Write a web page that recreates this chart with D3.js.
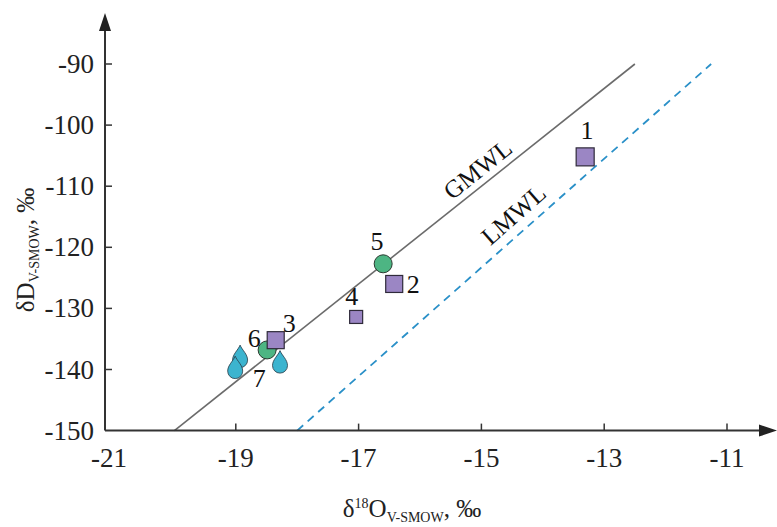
<!DOCTYPE html>
<html>
<head>
<meta charset="utf-8">
<script src="https://cdn.jsdelivr.net/npm/d3@7"></script>
<style>
  body { margin: 0; background: #fff; }
  svg { display: block; font-family: "Liberation Serif", "Times New Roman", serif; }
</style>
</head>
<body>
<svg></svg>
<script>
    /* data */
    let xTicks = [-21, -19, -17, -15, -13, -11];
    let yTicks = [-90, -100, -110, -120, -130, -140, -150];
    // samples: id, d18O, dD
    let squares = [
        {id: "1", x: -13.31, y: -105.2, size: 18},
        {id: "2", x: -16.42, y: -126.0, size: 17},
        {id: "3", x: -18.35, y: -135.2, size: 17},
        {id: "4", x: -17.04, y: -131.4, size: 13}
    ];
    let circles = [
        {id: "5", x: -16.60, y: -122.7},
        {id: "6", x: -18.49, y: -136.8}
    ];
    let drops = [
        {x: -18.93, y: -138.3},
        {x: -19.01, y: -140.1},
        {x: -18.28, y: -139.2}
    ];
    let labels = [
        {id: "1", x: -13.28, y: -100.8},
        {id: "2", x: -16.11, y: -126.0},
        {id: "3", x: -18.13, y: -132.4},
        {id: "4", x: -17.11, y: -128.0},
        {id: "5", x: -16.70, y: -119.0},
        {id: "6", x: -18.70, y: -134.8},
        {id: "7", x: -18.62, y: -141.4}
    ];
    // meteoric water lines  dD = a * d18O + b
    let gmwl = {a: 8, b: 10, from: -150, to: -90};
    let lmwl = {a: 8.9, b: 10.2, from: -150, to: -90};

    let width = 777;
    let height = 527;

    const svg = d3.select("svg").attr("width", width).attr("height", height);

    let xScale = d3.scaleLinear().domain([-21, -11]).range([113, 727]);
    let yScale = d3.scaleLinear().domain([-150, -90]).range([430.6, 64]);
    let axisX = 105;
    let axisY = yScale(-150);
    let fs = 27;

    // mw lines
    const lineEnds = (l) => [l.from, l.to].map(v => [(v - l.b) / l.a, v]);
    const lineGen = d3.line().x(d => xScale(d[0])).y(d => yScale(d[1]));

    svg.append("path").attr("d", lineGen(lineEnds(gmwl)))
        .attr("stroke", "#6b6b6b").attr("stroke-width", 1.6).attr("fill", "none");
    svg.append("path").attr("d", lineGen(lineEnds(lmwl)))
        .attr("stroke", "#2a90c8").attr("stroke-width", 1.8).attr("fill", "none")
        .attr("stroke-dasharray", "8,6");

    // line names, along the lines
    const angleOf = (l) => Math.atan2(yScale(l.a * -14 + l.b) - yScale(l.a * -15 + l.b), xScale(-14) - xScale(-15)) * 180 / Math.PI;
    svg.append("text").text("GMWL")
        .attr("transform", "translate(" + 483 + "," + 176 + ") rotate(" + angleOf(gmwl) + ")")
        .attr("text-anchor", "middle").attr("font-size", 25).attr("fill", "#111");
    svg.append("text").text("LMWL")
        .attr("transform", "translate(" + 519 + "," + 221 + ") rotate(" + angleOf(lmwl) + ")")
        .attr("text-anchor", "middle").attr("font-size", 25).attr("fill", "#111");

    // axes
    svg.append("line").attr("x1", axisX).attr("x2", axisX).attr("y1", axisY).attr("y2", 28)
        .attr("stroke", "#333").attr("stroke-width", 2);
    svg.append("path").attr("d", `M${axisX},13 L${axisX - 6},31 L${axisX + 6},31 Z`).attr("fill", "#222");
    svg.append("line").attr("x1", axisX).attr("x2", 762).attr("y1", axisY).attr("y2", axisY)
        .attr("stroke", "#333").attr("stroke-width", 2);
    svg.append("path").attr("d", `M777,${axisY} L759,${axisY - 6} L759,${axisY + 6} Z`).attr("fill", "#222");

    let yg = svg.append("g");
    yg.selectAll("line").data(yTicks.filter(t => t !== -150)).enter().append("line")
        .attr("x1", axisX).attr("x2", axisX + 7)
        .attr("y1", d => yScale(d)).attr("y2", d => yScale(d))
        .attr("stroke", "#333").attr("stroke-width", 1.5);
    yg.selectAll("text").data(yTicks).enter().append("text")
        .attr("x", axisX - 11).attr("y", d => yScale(d) + 9)
        .attr("text-anchor", "end").attr("font-size", fs).attr("fill", "#222")
        .text(d => d);

    let xg = svg.append("g");
    xg.selectAll("line").data(xTicks.filter(t => t !== -21)).enter().append("line")
        .attr("y1", axisY).attr("y2", axisY - 7)
        .attr("x1", d => xScale(d)).attr("x2", d => xScale(d))
        .attr("stroke", "#333").attr("stroke-width", 1.5);
    xg.selectAll("text").data(xTicks).enter().append("text")
        .attr("x", (d, i) => i === 0 ? xScale(d) - 4 : xScale(d)).attr("y", axisY + 36)
        .attr("text-anchor", "middle").attr("font-size", fs).attr("fill", "#222")
        .text(d => d);

    // axis titles
    let xt = svg.append("text").attr("x", 412).attr("y", 517).attr("text-anchor", "middle")
        .attr("font-size", 25).attr("fill", "#222");
    xt.append("tspan").text("δ");
    xt.append("tspan").text("18").attr("font-size", 14).attr("dy", -9);
    xt.append("tspan").text("O").attr("dy", 9);
    xt.append("tspan").text("V-SMOW").attr("font-size", 14).attr("dy", 5);
    xt.append("tspan").text(", ‰").attr("dy", -5);

    let yt = svg.append("text").attr("transform", "translate(34,250) rotate(-90)")
        .attr("text-anchor", "middle").attr("font-size", 25).attr("fill", "#222");
    yt.append("tspan").text("δD");
    yt.append("tspan").text("V-SMOW").attr("font-size", 14).attr("dy", 5);
    yt.append("tspan").text(", ‰").attr("dy", -5);

    // markers
    svg.selectAll("path.drop").data(drops).enter().append("path").attr("class", "drop")
        .attr("transform", d => "translate(" + xScale(d.x) + "," + yScale(d.y) + ")")
        .attr("d", "M0,-14 C2,-9 7.5,-5 7.5,1 A7.5,7.5 0 1 1 -7.5,1 C-7.5,-5 -2,-9 0,-14 Z")
        .attr("fill", "#3cb4cf").attr("stroke", "#2a3a45").attr("stroke-width", 0.8);

    svg.selectAll("circle.pt").data(circles).enter().append("circle").attr("class", "pt")
        .attr("cx", d => xScale(d.x)).attr("cy", d => yScale(d.y)).attr("r", 9)
        .attr("fill", "#4db583").attr("stroke", "#2a3a30").attr("stroke-width", 1);

    svg.selectAll("rect.pt").data(squares).enter().append("rect").attr("class", "pt")
        .attr("x", d => xScale(d.x) - d.size / 2).attr("y", d => yScale(d.y) - d.size / 2)
        .attr("width", d => d.size).attr("height", d => d.size)
        .attr("fill", "#9b86c4").attr("stroke", "#2f2a3a").attr("stroke-width", 1.2);

    svg.selectAll("text.lab").data(labels).enter().append("text").attr("class", "lab")
        .attr("x", d => xScale(d.x)).attr("y", d => yScale(d.y) + 9)
        .attr("text-anchor", "middle").attr("font-size", 26).attr("fill", "#111")
        .text(d => d.id);
</script>
</body>
</html>
